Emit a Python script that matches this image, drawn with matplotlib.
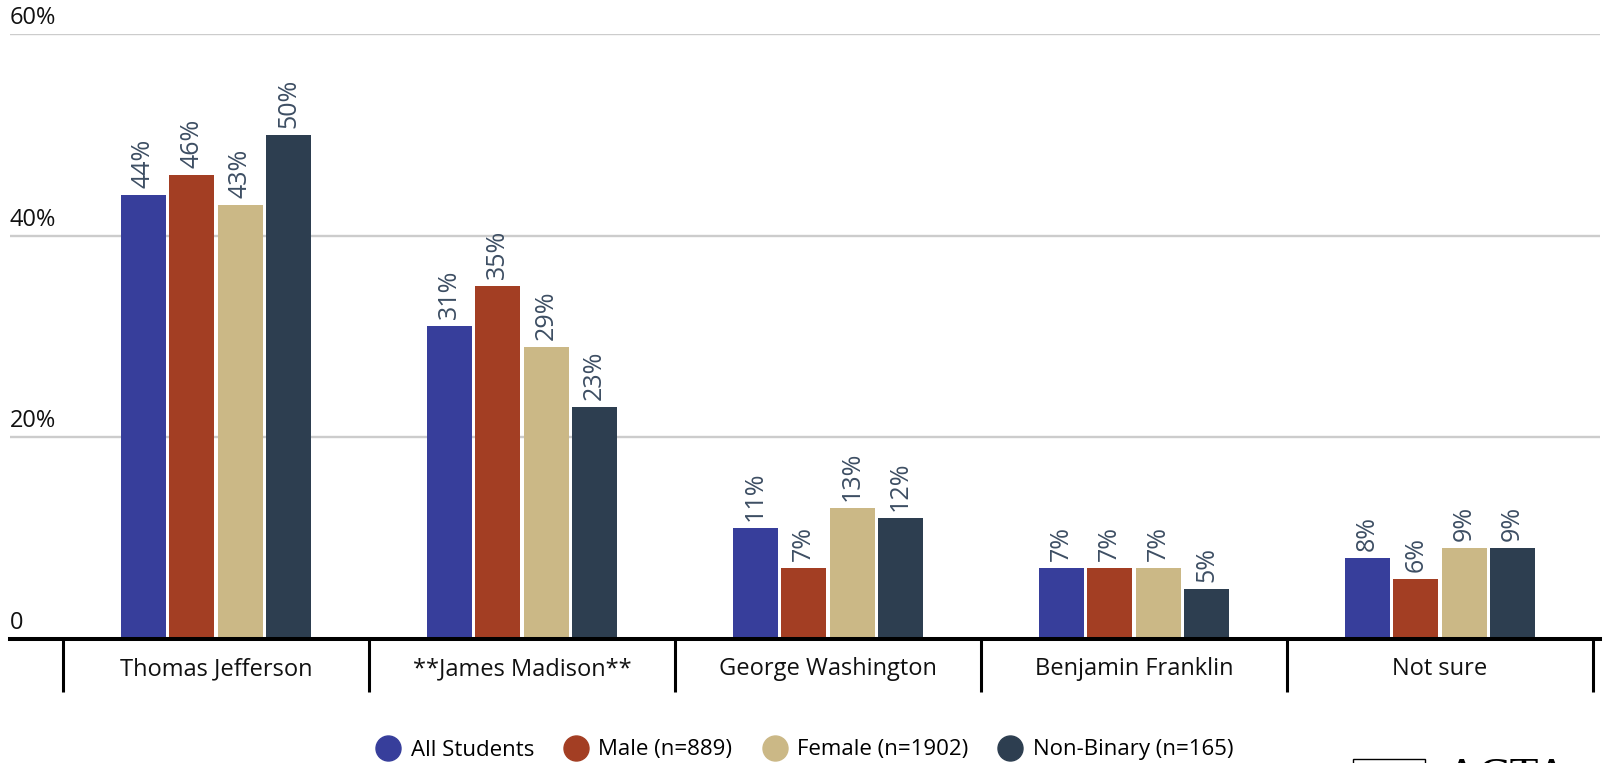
import numpy as np
import matplotlib.pyplot as plt
from matplotlib.lines import Line2D
from matplotlib.patches import Rectangle

# Data
categories = ["Thomas Jefferson", "**James Madison**", "George Washington",
              "Benjamin Franklin", "Not sure"]
series_names = ["All Students", "Male (n=889)", "Female (n=1902)", "Non-Binary (n=165)"]
all_students = [44, 31, 11, 7, 8]
male = [46, 35, 7, 7, 6]
female = [43, 29, 13, 7, 9]
non_binary = [50, 23, 12, 5, 9]
colors = ["#373e9b", "#a33e23", "#cbb886", "#2d3e50"]
y_ticks = [0, 20, 40, 60]
y_tick_labels = ["0", "20%", "40%", "60%"]

plt.rcParams["font.family"] = ["Open Sans", "DejaVu Sans"]

W, H = 1608, 763
fig = plt.figure(figsize=(W / 100, H / 100), dpi=100)
# axes from x=10..1600 px, y=34..639 px (from top)
ax = fig.add_axes([10 / W, (H - 639) / H, 1590 / W, 605 / H])

x = np.arange(len(categories))
bar_w = 0.147
pitch = 0.158
series = [all_students, male, female, non_binary]
for i, (vals, col) in enumerate(zip(series, colors)):
    pos = x + (i - 1.5) * pitch
    ax.bar(pos, vals, width=bar_w, color=col, zorder=3)
    for px_, v in zip(pos, vals):
        ax.annotate(f"{v}%", (px_, v), xytext=(0, 7), textcoords="offset pixels",
                    rotation=90, ha="center", va="bottom", fontsize=18,
                    color="#3d4e63")

ax.set_xlim(-0.673, 4.523)
ax.set_ylim(0, 60)

# gridlines
ax.set_yticks(y_ticks)
ax.yaxis.grid(True, color="#cccccc", linewidth=1.7, zorder=0)
ax.tick_params(axis="y", length=0, labelleft=False)
for t, lab in zip(y_ticks, y_tick_labels):
    ax.annotate(lab, (0, t), xycoords=("axes fraction", "data"),
                xytext=(0, 4), textcoords="offset pixels",
                ha="left", va="bottom", fontsize=17, color="#111111",
                annotation_clip=False)

# category separators (major) and labels (minor)
ax.set_xticks(np.arange(-0.5, len(categories), 1.0))
ax.set_xticklabels([])
ax.tick_params(axis="x", which="major", length=38, width=2.2, color="black",
               direction="out")
ax.set_xticks(x, minor=True)
ax.set_xticklabels(categories, minor=True)
ax.tick_params(axis="x", which="minor", length=0, pad=13, labelsize=17,
               labelcolor="#111111")

for s in ["top", "right", "left"]:
    ax.spines[s].set_visible(False)
ax.spines["bottom"].set_linewidth(2.9)
ax.spines["bottom"].set_color("black")
ax.spines["bottom"].set_zorder(4)

# legend
handles = [Line2D([], [], marker="o", linestyle="none", markersize=18,
                  markerfacecolor=c, markeredgecolor=c) for c in colors]
fig.legend(handles, series_names, loc="center", ncol=4,
           bbox_to_anchor=(0.5, 13 / H), frameon=False, fontsize=16,
           handletextpad=0.4, columnspacing=1.3, handlelength=1.2)

# partially visible logo at bottom right
fig.patches.append(Rectangle((1353 / W, -0.05), 72 / W, 0.05 + 4 / H,
                             transform=fig.transFigure, fill=False,
                             edgecolor="black", linewidth=1))
fig.text(1445 / W, 1 - 757 / H, "ACTA", fontsize=34, va="top", ha="left",
         family="Liberation Serif", color="black")

fig.savefig("out.png", dpi=100)
